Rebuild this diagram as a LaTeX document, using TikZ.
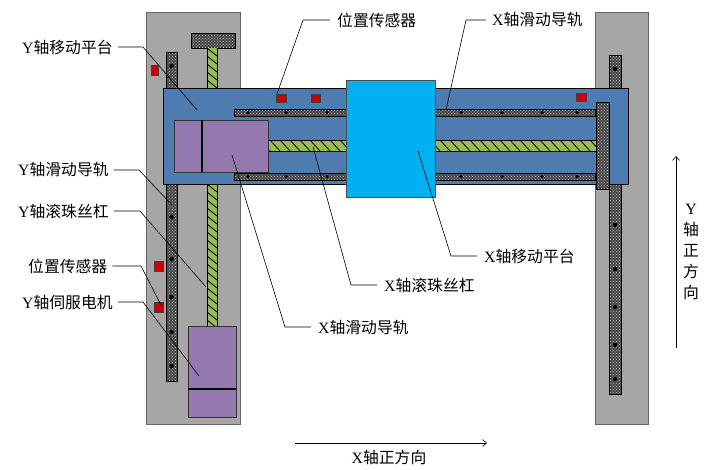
\documentclass[tikz,border=0pt]{standalone}
\usepackage{fontspec}
\setmainfont{Liberation Serif}
\newfontfamily\cjkf{Noto Sans CJK SC}
\usetikzlibrary{patterns,arrows.meta}
\definecolor{plate}{HTML}{A6A6A6}
\definecolor{bluep}{HTML}{4F7CB0}
\definecolor{cyanp}{HTML}{00B0F0}
\definecolor{violetm}{HTML}{9479AE}
\definecolor{greens}{HTML}{9BBB59}
\definecolor{redp}{HTML}{CC0000}
\tikzset{
 x=1pt,y=-1pt,
 plateb/.style={fill=plate,draw=black!60,line width=1pt},
 railb/.style={pattern=crosshatch dots,pattern color=black!25,draw=black,line width=.8pt,preaction={fill=black!72}},
 hole/.style={circle,fill=black,inner sep=0pt,minimum size=4.5pt},
 bluebox/.style={fill=bluep,draw=black,line width=.8pt},
 motorb/.style={fill=violetm,draw=black!80,line width=.8pt},
 sensor/.style={fill=redp,draw=black!75,line width=.7pt},
 lead/.style={draw=black,line width=.6pt},
 lbl/.style={inner sep=0pt,font=\fontsize{15.8}{18}\selectfont},
 dirarrow/.style={draw=black,line width=.6pt,-{Straight Barb[length=4pt,width=7pt]}}
}
\begin{document}
\begin{tikzpicture}
\useasboundingbox (0,0) rectangle (718,469);
% plates
\draw[plateb] (146,12) rectangle (240,424);
\draw[plateb] (595,12) rectangle (648,424);
% Y rails
\draw[railb] (166,52) rectangle (177,381);
\draw[railb] (609,55) rectangle (621,394);
\foreach \y in {66,217,259,297,332,366} \node[hole] at (171.5,\y) {};
\foreach \y in {69,225,269,307,345,379} \node[hole] at (615,\y) {};
% Y screw
\draw[railb] (191,33) rectangle (235,48);
\begin{scope}
\clip (207,48) rectangle (217,326);
\fill[greens] (207,48) rectangle (217,326);
\foreach \y in {40,48,...,328} \draw[line width=.8pt] (207,\y) -- (217,\y+8);
\end{scope}
\draw[line width=.8pt] (207,48) -- (207,326) (217,48) -- (217,326);
% Y motor
\draw[motorb] (188,326) rectangle (236,417);
\draw[line width=1.6pt] (188,389) -- (236,389);
% left sensors
\draw[sensor] (151,65) rectangle (158.5,75);
\draw[sensor] (154,261) rectangle (163,271.5);
\draw[sensor] (154,302) rectangle (163,312.5);
% blue carriage
\draw[bluebox] (163,88.5) rectangle (628,184);
% X rails
\draw[railb] (234,109) rectangle (595,116);
\draw[railb] (234,173) rectangle (595,180.5);
\foreach \x in {248,286,327,461,502,542,577} {
  \node[hole,minimum size=3.5pt] at (\x,112.5) {};
  \node[hole,minimum size=3.5pt] at (\x,176.7) {};
}
% X screw
\begin{scope}
\clip (268,140) rectangle (596,151);
\fill[greens] (268,140) rectangle (596,151);
\foreach \x in {260,270,...,600} \draw[line width=.8pt] (\x,140) -- (\x+10,151);
\end{scope}
\draw[line width=.8pt] (268,140) -- (596,140) (268,151) -- (596,151);
% X motor
\draw[motorb] (174,120) rectangle (268,172);
\draw[line width=1.6pt] (202,120) -- (202,172);
% sensors on carriage
\draw[sensor] (276,94) rectangle (286,102.5);
\draw[sensor] (311,94) rectangle (320.5,102.5);
\draw[sensor] (576,93) rectangle (586,101.5);
% end bar
\draw[railb] (596,102) rectangle (609,189);
% X platform
\fill[cyanp] (346,80) rectangle (435,197);
\draw[black!70,line width=.6pt] (346,80) rectangle (435,197);
% labels
\node[lbl,anchor=west] (a) at (22,47) {Y{\cjkf 轴移动平台}};
\node[lbl,anchor=west] (b) at (18,170) {Y{\cjkf 轴滑动导轨}};
\node[lbl,anchor=west] (c) at (18,211) {Y{\cjkf 轴滚珠丝杠}};
\node[lbl,anchor=west] (d) at (28,266) {{\cjkf 位置传感器}};
\node[lbl,anchor=west] (e) at (22,302) {Y{\cjkf 轴伺服电机}};
\node[lbl,anchor=west] (f) at (337,20) {{\cjkf 位置传感器}};
\node[lbl,anchor=west] (g) at (492,20) {X{\cjkf 轴滑动导轨}};
\node[lbl,anchor=west] (h) at (484,256) {X{\cjkf 轴移动平台}};
\node[lbl,anchor=west] (i) at (384,285) {X{\cjkf 轴滚珠丝杠}};
\node[lbl,anchor=west] (j) at (318,327) {X{\cjkf 轴滑动导轨}};
\node[lbl] (k) at (389,457) {X{\cjkf 轴正方向}};
\node[lbl,align=center,font=\fontsize{15.8}{21}\selectfont] (l) at (691,252) {Y\\{\cjkf 轴}\\{\cjkf 正}\\{\cjkf 方}\\{\cjkf 向}};
% leaders
\coordinate (a1) at (197,110);
\coordinate (b1) at (172,205);
\coordinate (c1) at (206,287);
\coordinate (d1) at (162,307);
\coordinate (e1) at (199,376);
\coordinate (f1) at (277,94);
\coordinate (g1) at (446,110);
\coordinate (h1) at (418,151);
\coordinate (i1) at (313,147);
\coordinate (j1) at (232,155);
\draw[lead] (a.east) ++(5,0) -- (143,47) -- (a1);
\draw[lead] (b.east) ++(5,0) -- (139,170) -- (b1);
\draw[lead] (c.east) ++(5,0) -- (140,211) -- (c1);
\draw[lead] (d.east) ++(5,0) -- (141,266) -- (d1);
\draw[lead] (e.east) ++(5,0) -- (143,302) -- (e1);
\draw[lead] (f.west) ++(-7,0) -- (303,20) -- (f1);
\draw[lead] (g.west) ++(-6,0) -- (466,20) -- (g1);
\draw[lead] (h.west) ++(-7,0) -- (451,256) -- (h1);
\draw[lead] (i.west) ++(-7,0) -- (351,285) -- (i1);
\draw[lead] (j.west) ++(-7,0) -- (285,327) -- (j1);
% direction arrows
\coordinate (xa) at (295,443); \coordinate (xb) at (487,443);
\coordinate (ya) at (676,348); \coordinate (yb) at (676,156);
\draw[dirarrow] (xa) -- (xb);
\draw[dirarrow] (ya) -- (yb);
\end{tikzpicture}
\end{document}
